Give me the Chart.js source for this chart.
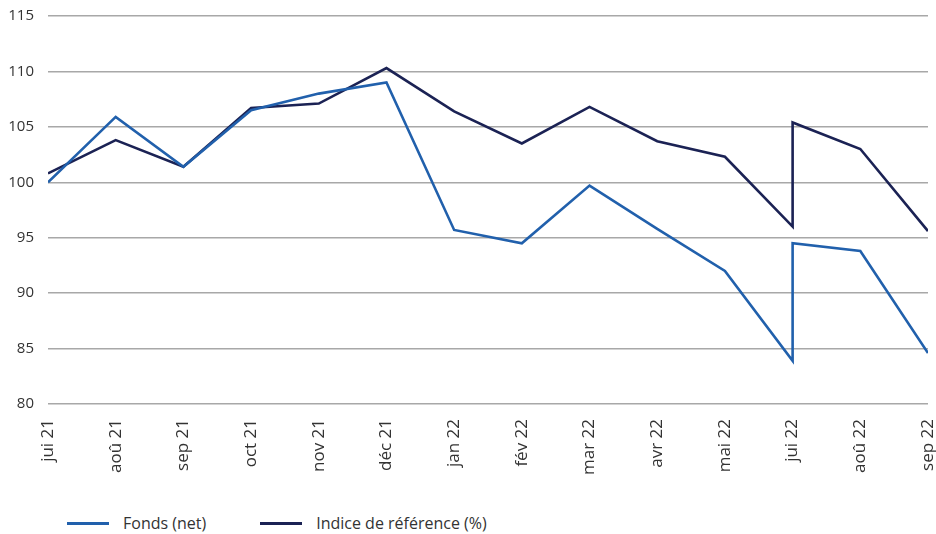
<!DOCTYPE html>
<html lang="fr">
<head>
<meta charset="utf-8">
<title>Fonds vs indice</title>
<script src="https://cdn.jsdelivr.net/npm/chart.js@4.4.1/dist/chart.umd.min.js"></script>
<style>
  html, body { margin: 0; padding: 0; background: #fff; overflow: hidden; }
  #wrap { position: relative; width: 936px; height: 490px; }
  #legend {
    display: flex; align-items: center;
    margin: 22px 0 0 67px;
    font: 16px "Open Sans", sans-serif; color: #333;
  }
  #legend .item { display: flex; align-items: center; margin-right: 54px; }
  #legend .swatch { width: 42px; height: 3px; margin-right: 14px; }
</style>
</head>
<body>
<div id="wrap"><canvas id="chart"></canvas></div>
<div id="legend"></div>
<script>
// month labels on the x axis
const monthLabels = ["jui 21", "aoû 21", "sep 21", "oct 21", "nov 21", "déc 21",
  "jan 22", "fév 22", "mar 22", "avr 22", "mai 22", "jui 22", "aoû 22", "sep 22"];

// position (month index) of every data point; jui 22 holds two points
const pointMonth = [0, 1, 2, 3, 4, 5, 6, 7, 8, 9, 10, 11, 11, 12, 13];

const fondsValues = [100.0, 105.9, 101.4, 106.5, 108.0, 109.0, 95.7, 94.5, 99.7,
  95.8, 92.0, 83.9, 94.5, 93.8, 84.6];
const indiceValues = [100.8, 103.8, 101.4, 106.7, 107.1, 110.3, 106.4, 103.5, 106.8,
  103.7, 102.3, 96.0, 105.4, 103.0, 95.6];

const yTicks = [80, 85, 90, 95, 100, 105, 110, 115];

const seriesNames = ["Fonds (net)", "Indice de référence (%)"];
const seriesColors = ["#2160ac", "#1b2254"];

function toPoints(values) {
  return values.map((v, i) => ({ x: pointMonth[i], y: v }));
}

const fontFamily = "'Open Sans', sans-serif";

new Chart(document.getElementById("chart"), {
  type: "line",
  data: {
    datasets: [
      {
        label: seriesNames[0],
        data: toPoints(fondsValues),
        borderColor: seriesColors[0],
        backgroundColor: seriesColors[0],
        borderWidth: 2.6,
        pointRadius: 0,
        tension: 0
      },
      {
        label: seriesNames[1],
        data: toPoints(indiceValues),
        borderColor: seriesColors[1],
        backgroundColor: seriesColors[1],
        borderWidth: 2.6,
        pointRadius: 0,
        tension: 0
      }
    ]
  },
  options: {
    responsive: true,
    maintainAspectRatio: false,
    animation: false,
    layout: { padding: { left: 0, top: 16, right: 8, bottom: 0 } },
    plugins: {
      legend: { display: false },
      tooltip: { enabled: false }
    },
    scales: {
      x: {
        type: "linear",
        min: 0,
        max: monthLabels.length - 1,
        grid: { display: false, drawTicks: false },
        border: { display: false },
        afterBuildTicks: (axis) => {
          axis.ticks = monthLabels.map((_, i) => ({ value: i }));
        },
        afterFit: (axis) => {
          axis.height = 86;
          axis.paddingLeft = 0;
          axis.paddingRight = 0;
        },
        ticks: {
          autoSkip: false,
          minRotation: 90,
          maxRotation: 90,
          padding: 15,
          color: "#333",
          font: { family: fontFamily, size: 17 },
          callback: (v) => monthLabels[v]
        }
      },
      y: {
        min: yTicks[0],
        max: yTicks[yTicks.length - 1],
        grid: { color: "#a8a8a8", lineWidth: 1.5, drawTicks: false },
        border: { display: false },
        afterBuildTicks: (axis) => {
          axis.ticks = yTicks.map(v => ({ value: v }));
        },
        afterFit: (axis) => {
          axis.width = 48;
          axis.paddingTop = 0;
          axis.paddingBottom = 0;
        },
        ticks: { padding: 14, color: "#333", font: { family: fontFamily, size: 15 } }
      }
    }
  }
});

// legend below the chart
const legend = document.getElementById("legend");
seriesNames.forEach((name, i) => {
  const item = document.createElement("div");
  item.className = "item";
  const sw = document.createElement("span");
  sw.className = "swatch";
  sw.style.background = seriesColors[i];
  const txt = document.createElement("span");
  txt.textContent = name;
  item.appendChild(sw);
  item.appendChild(txt);
  legend.appendChild(item);
});
</script>
</body>
</html>
